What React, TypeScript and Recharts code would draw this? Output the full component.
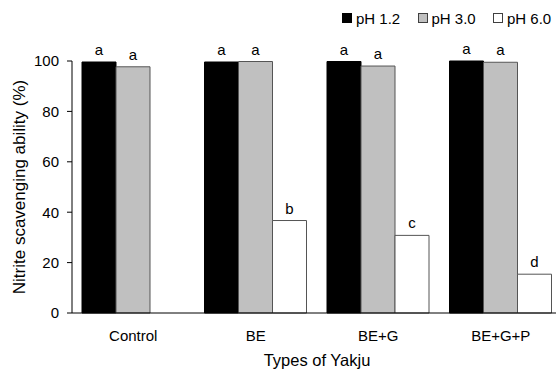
import React from "react";
import { Bar, BarChart, LabelList, Legend, XAxis, YAxis } from "recharts";

// 약주 종류별 아질산염 소거능 — pH 조건 3가지
const CATEGORIES = ["Control", "BE", "BE+G", "BE+G+P"];
const PH_12 = [99.6, 99.6, 99.8, 100];
const PH_30 = [97.7, 99.8, 98.0, 99.5];
const PH_60: (number | null)[] = [null, 36.7, 30.8, 15.4];

const LETTERS_12 = ["a", "a", "a", "a"];
const LETTERS_30 = ["a", "a", "a", "a"];
const LETTERS_60 = ["", "b", "c", "d"];

const Y_TICKS = [0, 20, 40, 60, 80, 100];

const SERIES = [
  { key: "ph12", label: "pH 1.2", fill: "#000000", stroke: "#000000", letters: "l12" },
  { key: "ph30", label: "pH 3.0", fill: "#c0c0c0", stroke: "#555555", letters: "l30" },
  { key: "ph60", label: "pH 6.0", fill: "#ffffff", stroke: "#555555", letters: "l60" },
];

const FONT = "'Liberation Sans', Arial, sans-serif";

const data = CATEGORIES.map((name, i) => ({
  name,
  ph12: PH_12[i],
  ph30: PH_30[i],
  ph60: PH_60[i],
  l12: LETTERS_12[i],
  l30: LETTERS_30[i],
  l60: LETTERS_60[i],
}));

function LegendBox() {
  return (
    <div style={{ display: "flex", height: 20, alignItems: "center", fontFamily: FONT, fontSize: 15, color: "#000" }}>
      {SERIES.map((s) => (
        <div key={s.key} style={{ display: "flex", alignItems: "center", width: 75.5 }}>
          <span
            style={{
              display: "inline-block",
              width: 10,
              height: 10,
              boxSizing: "border-box",
              background: s.fill,
              border: `1px solid ${s.stroke === "#000000" ? "#000" : "#404040"}`,
              marginRight: 4,
            }}
          />
          <span>{s.label}</span>
        </div>
      ))}
    </div>
  );
}

export default function App() {
  return (
    <div
      style={{
        position: "absolute",
        left: 0,
        top: 0,
        width: 556,
        height: 374,
        overflow: "hidden",
        background: "#fff",
        fontFamily: FONT,
      }}
    >
      <BarChart
        width={562}
        height={374}
        data={data}
        margin={{ top: 41, right: 0, bottom: 0, left: 0 }}
        barCategoryGap={10}
        barGap={0}
      >
        <Legend
          verticalAlign="top"
          content={() => <LegendBox />}
          wrapperStyle={{ top: 8, left: 342, width: 230, height: 20 }}
        />
        <XAxis
          dataKey="name"
          height={61}
          tickLine={false}
          tickMargin={11}
          axisLine={{ stroke: "#000" }}
          tick={{ fill: "#000", fontSize: 15, fontFamily: FONT }}
          label={{ value: "Types of Yakju", position: "insideBottom", offset: 8, fill: "#000", fontSize: 16.5, fontFamily: FONT }}
        />
        <YAxis
          width={72}
          domain={[0, 100]}
          ticks={Y_TICKS}
          tickSize={5}
          tickMargin={8}
          axisLine={{ stroke: "#000" }}
          tickLine={{ stroke: "#000" }}
          tick={{ fill: "#000", fontSize: 15, fontFamily: FONT }}
          label={{
            value: "Nitrite scavenging ability (%)",
            angle: -90,
            position: "insideLeft",
            offset: 19,
            fill: "#000",
            fontSize: 17,
            fontFamily: FONT,
            style: { textAnchor: "middle" },
          }}
        />
        {SERIES.map((s) => (
          <Bar
            key={s.key}
            dataKey={s.key}
            fill={s.fill}
            stroke={s.stroke}
            strokeWidth={1}
            isAnimationActive={false}
          >
            <LabelList dataKey={s.letters} position="top" offset={7} fill="#000" fontSize={15} fontFamily={FONT} />
          </Bar>
        ))}
      </BarChart>
    </div>
  );
}
